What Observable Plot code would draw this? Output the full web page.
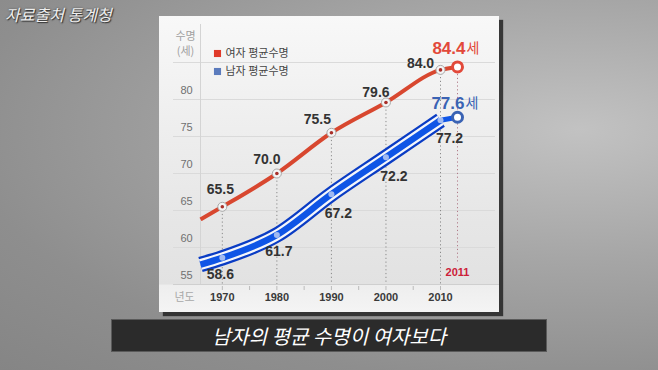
<!DOCTYPE html>
<html><head><meta charset="utf-8">
<script src="https://cdn.jsdelivr.net/npm/d3@7"></script>
<script src="https://cdn.jsdelivr.net/npm/@observablehq/plot@0.6"></script>
<style>
html,body{margin:0;padding:0;}
#stage{position:relative;width:658px;height:370px;overflow:hidden;
  background:radial-gradient(ellipse at 88% 35%, #c2c2c2 0%, #a6a6a6 38%, #8e8e8e 75%, #858585 100%);
  font-family:"Liberation Sans","Noto Sans CJK KR",sans-serif;}
#card{position:absolute;left:159px;top:16px;width:340px;height:296px;
  background:linear-gradient(to bottom,#f8f8f8 0%,#f0f0f0 30%,#e6e6e6 70%,#e2e2e2 90.5%,#eeeeee 91%,#f4f4f4 100%);
  box-shadow:4px 4px 1px rgba(35,35,35,.85);}
#chart{position:absolute;left:159px;top:16px;}
#source{position:absolute;left:5px;top:2px;font-family:"Noto Sans CJK KR",sans-serif;font-size:16px;font-style:italic;
  color:#eeeeee;text-shadow:1px 1px 1px #333,0 0 2px #444;}
#caption{position:absolute;left:111px;top:319px;width:434px;height:31px;background:#2b2b2b;border:1px solid #5a5a5a;
  color:#fff;font-family:"Noto Sans CJK KR",sans-serif;font-size:20px;font-style:italic;text-align:center;line-height:31px;}
</style></head>
<body>
<div id="stage">
  <div id="source">자료출처 통계청</div>
  <div id="card"></div>
  <div id="chart"></div>
  <div id="caption">남자의 평균 수명이 여자보다</div>
</div>
<script>
// ---- data ----
const years = [1970, 1980, 1990, 2000, 2010];
const female = [65.5, 70.0, 75.5, 79.6, 84.0];
const male = [58.6, 61.7, 67.2, 72.2, 77.2];
const latestYear = 2011;
const femaleLatest = 84.4;
const maleLatest = 77.6;
const startYear = 1966;      // lines begin a little before 1970 (estimated)
const femaleStart = 63.8;
const maleStart = 57.7;
const yTicks = [55, 60, 65, 70, 75, 80];
const gridValues = [55, 60, 65, 70, 75, 80, 85];
const xTicks = [1970, 1980, 1990, 2000, 2010];
const minorTicks = [1970, 1975, 1980, 1985, 1990, 1995, 2000, 2005, 2010];
const seriesNames = ["여자 평균수명", "남자 평균수명"];
const yTitle = ["수명", "(세)"];
const xTitle = "년도";
const unit = "세";

// ---- build tables ----
const fMain = years.map((y, i) => ({year: y, v: female[i]}));
const mMain = years.map((y, i) => ({year: y, v: male[i]}));
const fAll = [{year: startYear, v: femaleStart}, ...fMain, {year: latestYear, v: femaleLatest}];
const mBand = [{year: startYear, v: maleStart}, ...mMain];
const mTail = [mMain[mMain.length - 1], {year: latestYear, v: maleLatest}];
const fLast = [{year: latestYear, v: femaleLatest}];
const mLast = [{year: latestYear, v: maleLatest}];

const RED = "#d8472f", RED_T = "#e2493a", BLUE = "#0f55e6", BLUE_D = "#0a3cc4", BLUE_T = "#3a63b4";
const FONT = "Liberation Sans, Noto Sans CJK KR, sans-serif";
const KFONT = "Noto Sans CJK KR, sans-serif";

// label offsets (layout only)
const fOff = [[-2, -17], [-10, -14], [-14, -13], [-10, -10], [-20, -6]];
const mOff = [[-2, 17], [2, 17], [7, 19], [8, 19], [9, 18]];

const marks = [
  Plot.ruleY(gridValues, {y: d => d, stroke: "#dadada", insetLeft: 14, insetRight: 4}),
  Plot.ruleY([yTicks[0]], {y: d => d, stroke: "#cfcfcf", insetLeft: 14, insetRight: 0}),
  Plot.ruleX([startYear], {x: d => d, y1: gridValues[gridValues.length - 1], y2: yTicks[0], stroke: "#d4d4d4", insetTop: -38}),
  Plot.ruleX(minorTicks, {x: d => d, y1: yTicks[0], y2: yTicks[0], stroke: "#bbb", insetTop: 2, insetBottom: -6}),
  Plot.ruleX(fMain, {x: "year", y1: "v", y2: yTicks[0], stroke: "#8a8a8a", strokeDasharray: "1.2,2.6"}),
  Plot.ruleX(fLast, {x: "year", y1: "v", y2: yTicks[0], stroke: "#b07a88", strokeDasharray: "1.2,2.6", insetBottom: 22}),
  Plot.line(fAll, {x: "year", y: "v", stroke: RED, strokeWidth: 4, curve: "monotone-x", strokeLinecap: "butt"}),
  Plot.line(mBand, {x: "year", y: "v", stroke: BLUE_D, strokeWidth: 15.5, curve: "monotone-x", strokeLinecap: "butt"}),
  Plot.line(mBand, {x: "year", y: "v", stroke: "#f4f6fb", strokeWidth: 11, curve: "monotone-x", strokeLinecap: "butt"}),
  Plot.line(mBand, {x: "year", y: "v", stroke: BLUE, strokeWidth: 6.5, curve: "monotone-x", strokeLinecap: "butt"}),
  Plot.line(mTail, {x: "year", y: "v", stroke: BLUE, strokeWidth: 5}),
  Plot.dot(mMain, {x: "year", y: "v", r: 3, fill: "#dfe6f5", fillOpacity: 0.7}),
  Plot.dot(fMain, {x: "year", y: "v", r: 4.5, fill: "#f4f4f4", stroke: "#a9a9a9", strokeWidth: 1}),
  Plot.dot(fMain, {x: "year", y: "v", r: 1.8, fill: "#a8302a"}),
  Plot.dot(fLast, {x: "year", y: "v", r: 5, fill: "white", stroke: RED_T, strokeWidth: 3}),
  Plot.dot(mLast, {x: "year", y: "v", r: 5, fill: "white", stroke: BLUE_T, strokeWidth: 3}),
  ...fMain.map((d, i) => Plot.text([d], {x: "year", y: "v", text: r => r.v.toFixed(1), dx: fOff[i][0], dy: fOff[i][1],
      fontSize: 14, fontWeight: "bold", fill: "#333", fontFamily: FONT})),
  ...mMain.map((d, i) => Plot.text([d], {x: "year", y: "v", text: r => r.v.toFixed(1), dx: mOff[i][0], dy: mOff[i][1],
      fontSize: 14, fontWeight: "bold", fill: "#333", fontFamily: FONT})),
  Plot.text(fLast, {x: "year", y: "v", text: r => r.v.toFixed(1), textAnchor: "end", dx: 8, dy: -18,
      fontSize: 17, fontWeight: "bold", fill: RED_T, fontFamily: FONT}),
  Plot.text(fLast, {x: "year", y: "v", text: () => unit, textAnchor: "start", dx: 9, dy: -18,
      fontSize: 14, fill: RED_T, fontFamily: KFONT}),
  Plot.text(mLast, {x: "year", y: "v", text: r => r.v.toFixed(1), textAnchor: "end", dx: 7, dy: -14,
      fontSize: 17, fontWeight: "bold", fill: BLUE_T, fontFamily: FONT}),
  Plot.text(mLast, {x: "year", y: "v", text: () => unit, textAnchor: "start", dx: 8, dy: -14,
      fontSize: 14, fill: BLUE_T, fontFamily: KFONT}),
  Plot.text(yTicks, {y: d => d, text: d => String(d), frameAnchor: "left", dx: 27, dy: -9, textAnchor: "middle",
      fontSize: 11, fill: "#707070", fontFamily: FONT}),
  Plot.text(xTicks, {x: d => d, text: d => String(d), frameAnchor: "bottom", dy: -12,
      fontSize: 11, fontWeight: "bold", fill: "#3a3a3a", fontFamily: FONT}),
  Plot.text([latestYear], {x: d => d, text: d => String(d), frameAnchor: "bottom", dy: -37,
      fontSize: 11, fontWeight: "bold", fill: "#cc2038", fontFamily: FONT}),
  Plot.text([xTitle], {frameAnchor: "bottom-left", dx: 25, dy: -12, textAnchor: "middle",
      fontSize: 11, fill: "#a8a8a8", fontFamily: KFONT}),
  Plot.text([yTitle[0]], {frameAnchor: "top-left", dx: 26, dy: 20, textAnchor: "middle", lineAnchor: "middle",
      fontSize: 11, fill: "#a0a0a0", fontFamily: KFONT}),
  Plot.text([yTitle[1]], {frameAnchor: "top-left", dx: 26, dy: 35, textAnchor: "middle", lineAnchor: "middle",
      fontSize: 11, fill: "#a0a0a0", fontFamily: KFONT}),
  Plot.dot([seriesNames[0]], {frameAnchor: "top-left", dx: 58, dy: 37, symbol: "square", r: 4, fill: "#e03a2a"}),
  Plot.dot([seriesNames[1]], {frameAnchor: "top-left", dx: 58, dy: 55, symbol: "square", r: 4, fill: "#5b7bbd"}),
  Plot.text([seriesNames[0]], {frameAnchor: "top-left", dx: 66, dy: 37, textAnchor: "start", lineAnchor: "middle",
      fontSize: 11, fill: "#444", fontFamily: KFONT}),
  Plot.text([seriesNames[1]], {frameAnchor: "top-left", dx: 66, dy: 55, textAnchor: "start", lineAnchor: "middle",
      fontSize: 11, fill: "#444", fontFamily: KFONT})
];

const chart = Plot.plot({
  width: 340,
  height: 296,
  margin: 0,
  x: {type: "linear", domain: [startYear, 2010, latestYear], range: [41, 281, 298], axis: null},
  y: {type: "linear", domain: [55, 80], range: [268, 83], axis: null},
  style: {background: "transparent", overflow: "visible", fontFamily: FONT},
  marks
});
document.getElementById("chart").appendChild(chart);
</script>
</body></html>
